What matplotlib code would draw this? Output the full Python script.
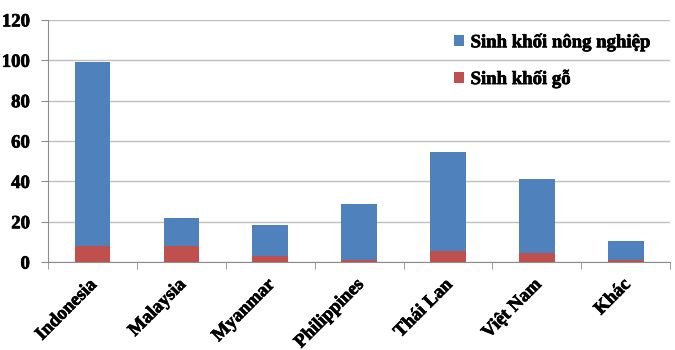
import matplotlib.pyplot as plt
import matplotlib.transforms as mtransforms
import matplotlib.patheffects as pe
import numpy as np

# Dữ liệu
quoc_gia = ["Indonesia", "Malaysia", "Myanmar", "Philippines", "Thái Lan", "Việt Nam", "Khác"]
sinh_khoi_go = [8, 8, 3, 1, 5.5, 4.3, 1]
sinh_khoi_nong_nghiep = [91, 14, 15.3, 28, 49, 36.7, 9.4]

plt.rcParams['font.family'] = 'serif'
plt.rcParams['font.serif'] = ['Liberation Serif']
plt.rcParams['font.weight'] = 'bold'

dam = [pe.withStroke(linewidth=0.5, foreground="black")]

fig = plt.figure(figsize=(6.75, 3.5), dpi=100)
ax = fig.add_axes([0.071, 0.251, 0.922, 0.692])

x = np.arange(len(quoc_gia))
b1 = ax.bar(x, sinh_khoi_go, width=0.4, color="#C0504D", label="Sinh khối gỗ", zorder=3)
b2 = ax.bar(x, sinh_khoi_nong_nghiep, width=0.4, bottom=sinh_khoi_go,
            color="#4F81BD", label="Sinh khối nông nghiệp", zorder=3)

ax.set_ylim(0, 120)
ax.set_yticks(range(0, 121, 20))
ax.set_xlim(-0.5, len(quoc_gia) - 0.5)
ax.yaxis.grid(True, color="#BFBFBF", linewidth=1, zorder=0)

# Nhãn trục x
ax.set_xticks(x)
ax.set_xticklabels(quoc_gia, rotation=45, ha="right", va="top", rotation_mode="anchor",
                   fontsize=13.5, fontweight="bold")
ax.tick_params(axis="x", which="major", length=0, pad=10)
ax.set_xticks(np.arange(-0.5, len(quoc_gia), 1), minor=True)
ax.tick_params(axis="x", which="minor", length=5, color="#8C8C8C", direction="out")
ax.tick_params(axis="y", length=5, color="#8C8C8C", labelsize=13.5, pad=8)
dich = mtransforms.ScaledTranslation(-4 / 100, 0, fig.dpi_scale_trans)
for lab in ax.get_xticklabels():
    lab.set_transform(lab.get_transform() + dich)
    lab.set_path_effects(dam)
for lab in ax.get_yticklabels():
    lab.set_fontweight("bold")
    lab.set_path_effects(dam)

for s in ["top", "right"]:
    ax.spines[s].set_visible(False)
ax.spines["left"].set_color("#8C8C8C")
ax.spines["bottom"].set_color("#8C8C8C")

leg = ax.legend(handles=[b2, b1], frameon=False, loc="upper left", bbox_to_anchor=(0.652, 0.945),
                borderpad=0, borderaxespad=0, handlelength=0.55, handleheight=0.55,
                handletextpad=0.35, labelspacing=0.95,
                prop={"weight": "bold", "size": 13.5})
for t in leg.get_texts():
    t.set_path_effects(dam)

fig.savefig("out.png", dpi=100)
